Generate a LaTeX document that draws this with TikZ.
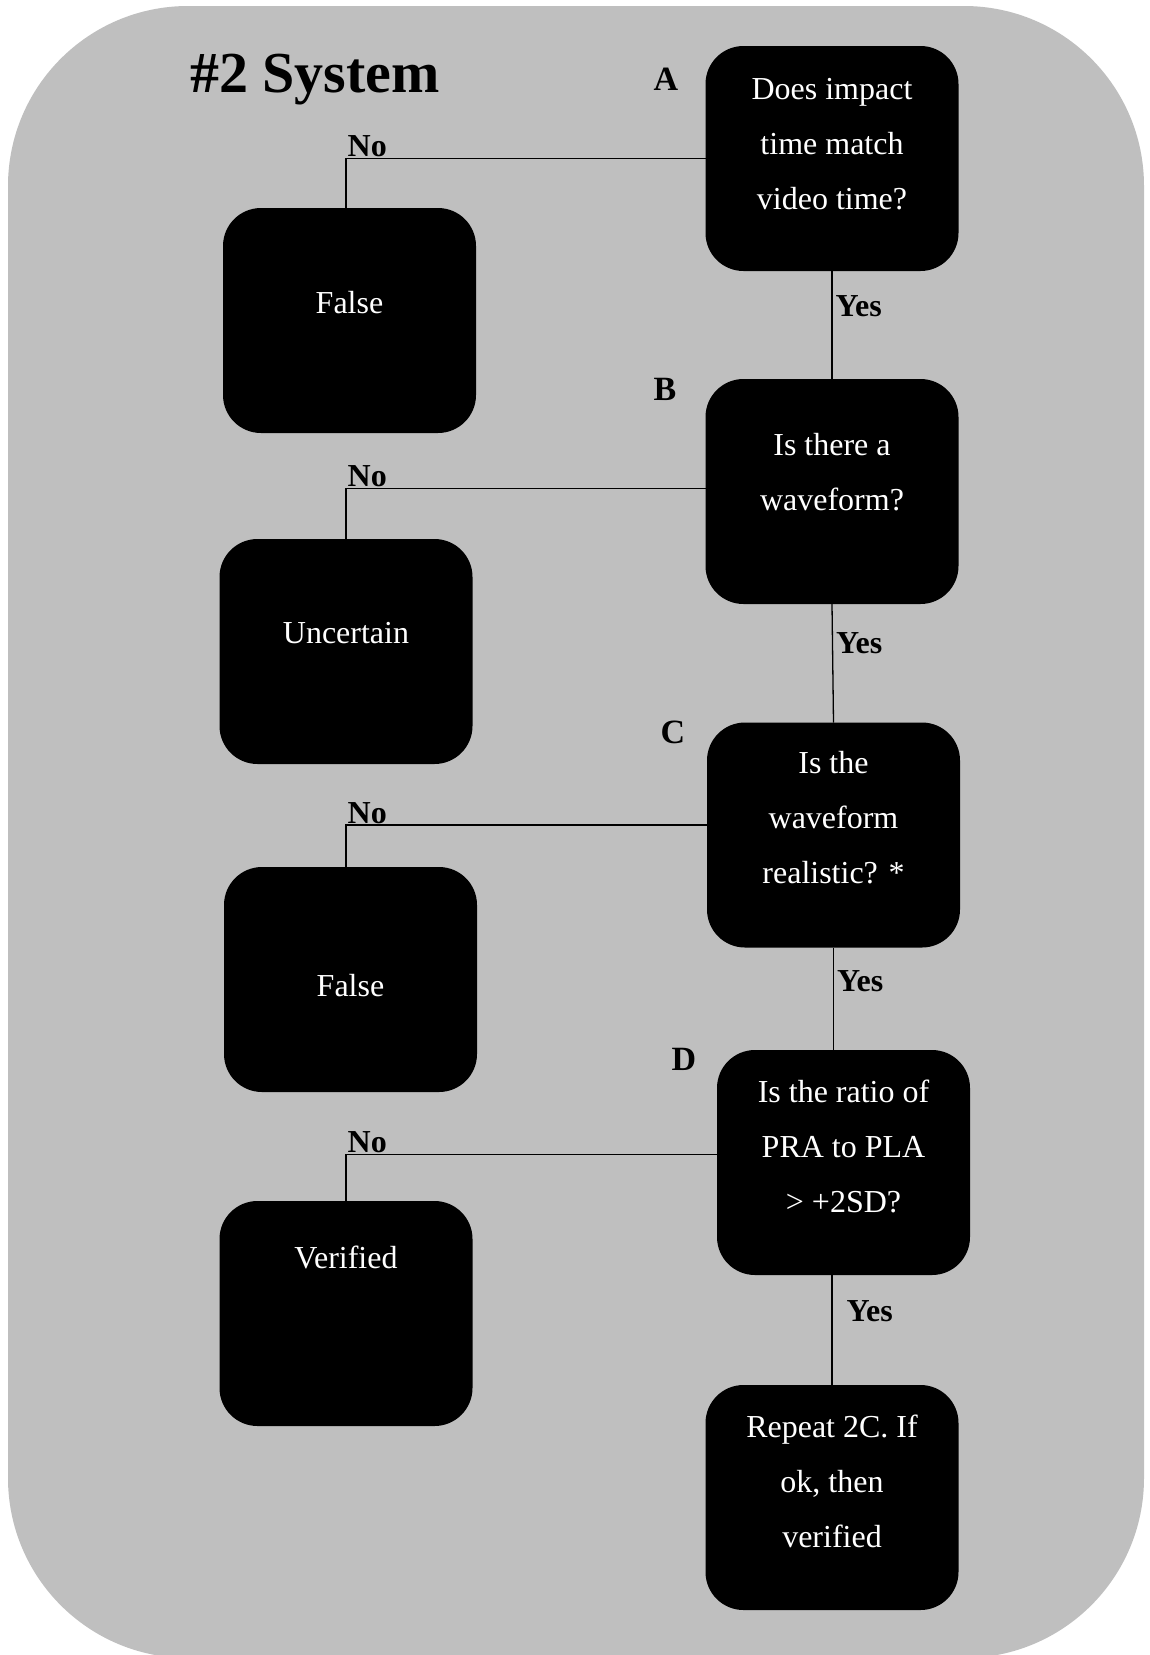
\documentclass[tikz,border=0pt]{standalone}
\usepackage{fontspec}
\setmainfont{Liberation Serif}
\definecolor{panelgray}{RGB}{191,191,191}

\begin{document}
\begin{tikzpicture}[x=1pt,y=-1pt,
    box/.style={fill=black,rounded corners=38pt,minimum width=253pt,minimum height=225pt,inner sep=0pt,outer sep=0pt},
    boxtext/.style={anchor=north,text=white,align=center,inner sep=0pt,font=\fontsize{32}{55}\selectfont},
    nolabel/.style={anchor=south west,inner sep=1pt,font=\bfseries\fontsize{32}{38}\selectfont},
    yeslabel/.style={anchor=west,pos=0.33,inner xsep=3pt,inner ysep=1pt,font=\bfseries\fontsize{32}{38}\selectfont},
    letter/.style={inner sep=0pt,font=\bfseries\fontsize{34}{40}\selectfont},
    link/.style={line width=1.3pt}]
          \useasboundingbox (0,0) rectangle (1149,1655);
          \fill[panelgray,rounded corners=180pt] (8,6) rectangle (1144,1658);
          \node[anchor=base west,inner sep=0pt,font=\bfseries\fontsize{58}{62}\selectfont] (title) at (190,92) {\#2 System};
          % right column: questions
          \node[box] (A) at (832,158.5) {};
          \node[box] (B) at (832,491.5) {};
          \node[box] (C) at (833.5,835) {};
          \node[box] (D) at (843.5,1162.5) {};
          \node[box] (R) at (832,1497.5) {};
          % left column: outcomes
          \node[box] (F1) at (349.5,320.5) {};
          \node[box] (U) at (346,651.5) {};
          \node[box] (F2) at (350.5,979.5) {};
          \node[box] (V) at (346,1313.5) {};
          \node[boxtext] (tA) at ([yshift=-32pt]A.north) {Does impact\\time match\\video time?};
          \node[boxtext] (tB) at ([yshift=-54pt]B.north) {Is there a\\waveform?};
          \node[boxtext] (tC) at ([yshift=-29pt]C.north) {Is the\\waveform\\realistic? *};
          \node[boxtext] (tD) at ([yshift=-30pt]D.north) {Is the ratio of\\PRA to PLA\\> +2SD?};
          \node[boxtext] (tR) at ([yshift=-30pt]R.north) {Repeat 2C. If\\ok, then\\verified};
          \node[boxtext] (tF1) at ([yshift=-83pt]F1.north) {False};
          \node[boxtext] (tU) at ([yshift=-83pt]U.north) {Uncertain};
          \node[boxtext] (tF2) at ([yshift=-107pt]F2.north) {False};
          \node[boxtext] (tV) at ([yshift=-45pt]V.north) {Verified};
          \node[letter] (lA) at (666,79) {A};
          \node[letter] (lB) at (665,389) {B};
          \node[letter] (lC) at (673,732) {C};
          \node[letter] (lD) at (684,1059) {D};
          % no branches
          \draw[link] (A.west) -| node[nolabel] (noA) {No} ([xshift=-3.5pt]F1.north);
          \draw[link] ([yshift=3pt]B.west) -| node[nolabel] (noB) {No} (U.north);
          \draw[link] ([yshift=10pt]C.west) -| node[nolabel] (noC) {No} ([xshift=-4.5pt]F2.north);
          \draw[link] ([yshift=8pt]D.west) -| node[nolabel] (noD) {No} (V.north);
          % yes branches
          \draw[link] (A.south) -- node[yeslabel] (yesA) {Yes} (B.north);
          \draw[link] (B.south) -- node[yeslabel] (yesB) {Yes} (C.north);
          \draw[link] (C.south) -- node[yeslabel] (yesC) {Yes} (C.south |- D.north);
          \draw[link] (R.north |- D.south) -- node[yeslabel,xshift=11pt] (yesD) {Yes} (R.north);
        \end{tikzpicture}
\end{document}
